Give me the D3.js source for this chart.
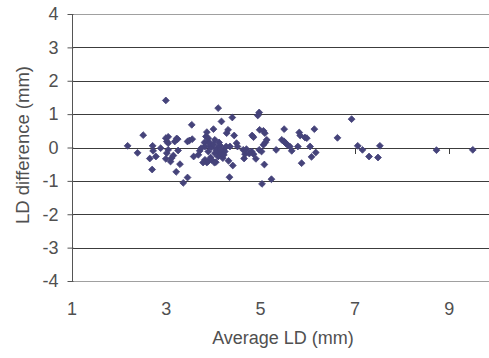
<!DOCTYPE html>
<html><head><meta charset="utf-8">
<script src="https://cdn.jsdelivr.net/npm/d3@7"></script>
<style>html,body{margin:0;padding:0;background:#fff;}svg{display:block;}</style>
</head><body>
<script>
const xTicks = [1, 3, 5, 7, 9];
const yTicks = [-4, -3, -2, -1, 0, 1, 2, 3, 4];
const xTitle = "Average LD (mm)";
const yTitle = "LD difference (mm)";
const avgLD = [
2.18,2.39,2.51,2.65,2.70,2.71,2.72,2.78,2.88,2.99,2.99,3.01,3.04,2.99,3.04,3.01,3.09,3.11,3.15,3.18,
3.22,3.24,3.04,3.25,3.21,3.29,3.36,3.45,3.45,3.49,3.54,3.55,3.58,3.68,3.71,3.74,3.81,3.84,3.86,3.86,
3.89,3.89,3.82,3.82,3.88,3.89,3.93,3.94,3.96,3.96,4.00,4.03,4.05,4.07,4.03,4.10,4.10,4.10,4.14,4.17,
4.17,4.20,4.21,4.24,4.27,4.28,4.31,4.32,4.34,4.35,4.40,4.41,4.44,4.49,4.51,4.63,4.65,4.67,4.70,4.76,
4.81,4.82,4.85,4.85,4.90,4.94,4.97,4.98,4.97,5.02,5.03,5.06,5.09,5.08,5.06,5.10,5.13,5.23,5.33,5.45,
5.50,5.50,5.53,5.57,5.62,5.66,5.79,5.82,5.84,5.87,5.94,5.98,6.05,6.08,6.14,6.17,6.63,6.93,7.06,7.16,
7.30,7.49,7.53,8.73,9.50,3.92,4.00,4.06,4.15,4.12,4.22,3.78,4.02
];
const ldDiff = [
0.05,-0.16,0.37,-0.33,-0.66,0.05,-0.10,-0.27,-0.02,1.41,0.28,0.18,0.32,-0.34,-0.07,-0.17,-0.42,-0.32,-0.24,0.18,
0.27,0.25,0.13,-0.09,-0.73,-0.50,-1.06,0.18,-0.90,0.21,0.68,0.25,-0.27,-0.22,-0.10,-0.02,0.15,0.33,0.46,-0.45,
0.18,0.28,0.03,-0.37,-0.42,-0.12,0.03,-0.30,0.01,-0.37,0.55,0.23,-0.44,-0.02,-0.17,1.18,-0.12,-0.27,0.06,0.78,
-0.19,-0.32,-0.07,-0.12,0.03,0.43,0.53,-0.40,-0.89,0.03,0.90,-0.54,0.36,0.13,0.03,-0.07,-0.33,-0.20,-0.05,-0.18,
-0.12,0.36,0.31,-0.20,-0.34,0.96,1.05,0.53,-0.07,-0.12,-1.09,0.50,0.43,-0.51,0.08,0.15,0.23,-0.95,-0.07,0.23,
0.55,0.18,0.13,0.08,0.03,-0.10,0.03,0.45,0.36,-0.47,0.30,0.28,0.03,-0.28,0.55,-0.15,0.29,0.85,0.05,-0.07,
-0.27,-0.30,0.05,-0.08,-0.07,0.12,0.10,-0.08,-0.05,0.15,-0.22,-0.45,-0.45
];

const W = 489, H = 358;
const svg = d3.select("body").append("svg").attr("width", W).attr("height", H);
const x = d3.scaleLinear().domain([1, 10]).range([72, 72 + 9 * 47.15]);
const y = d3.scaleLinear().domain([-4, 4]).range([281, 14]);
const font = "'Liberation Sans', Arial, sans-serif";
const textCol = "#505050";

// gridlines
svg.append("g").selectAll("line").data(yTicks).join("line")
  .attr("x1", x(1)).attr("x2", W)
  .attr("y1", d => Math.round(y(d)) + 0.5).attr("y2", d => Math.round(y(d)) + 0.5)
  .attr("stroke", d => (d === 4 || d === -4) ? "#a0a0a0" : "#3c3c3c")
  .attr("stroke-width", 1);

// y axis
const yAxis = d3.axisLeft(y).tickValues(yTicks).tickSize(5).tickPadding(9).tickFormat(d => String(d));
const gy = svg.append("g").attr("transform", `translate(${Math.round(x(1)) + 0.5},0)`).call(yAxis);
gy.select(".domain").attr("stroke", "#555").attr("d", `M0,${y(4)}V${y(-4)}`);
gy.selectAll(".tick line").attr("stroke", "#555").attr("x1", 1);
gy.selectAll(".tick text").attr("fill", textCol).style("font-family", font).style("font-size", "18px");

// x axis ticks at y=0 (axis crosses at 0), labels at bottom
svg.append("g").selectAll("line").data(xTicks.filter(d => d > 1)).join("line")
  .attr("x1", d => Math.round(x(d)) + 0.5).attr("x2", d => Math.round(x(d)) + 0.5)
  .attr("y1", Math.round(y(0))).attr("y2", Math.round(y(0)) + 6)
  .attr("stroke", "#3c3c3c");
svg.append("g").selectAll("text").data(xTicks).join("text")
  .attr("x", d => x(d)).attr("y", 315)
  .attr("text-anchor", "middle").attr("fill", textCol)
  .style("font-family", font).style("font-size", "18px")
  .text(d => d);

// titles
svg.append("text").attr("x", 283).attr("y", 344).attr("text-anchor", "middle")
  .attr("fill", textCol).style("font-family", font).style("font-size", "18px").text(xTitle);
svg.append("text").attr("transform", "translate(29,145) rotate(-90)").attr("text-anchor", "middle")
  .attr("fill", textCol).style("font-family", font).style("font-size", "18.5px").text(yTitle);

// points
const pts = avgLD.map((v, i) => [v, ldDiff[i]]);
const sym = d3.symbol().type(d3.symbolDiamond2).size(30);
svg.append("g").selectAll("path").data(pts).join("path")
  .attr("transform", d => `translate(${x(d[0])},${y(d[1])})`)
  .attr("d", sym).attr("fill", "#45437a").attr("stroke", "#45437a").attr("stroke-width", 0.8).attr("stroke-linejoin", "round");
</script>
</body></html>
